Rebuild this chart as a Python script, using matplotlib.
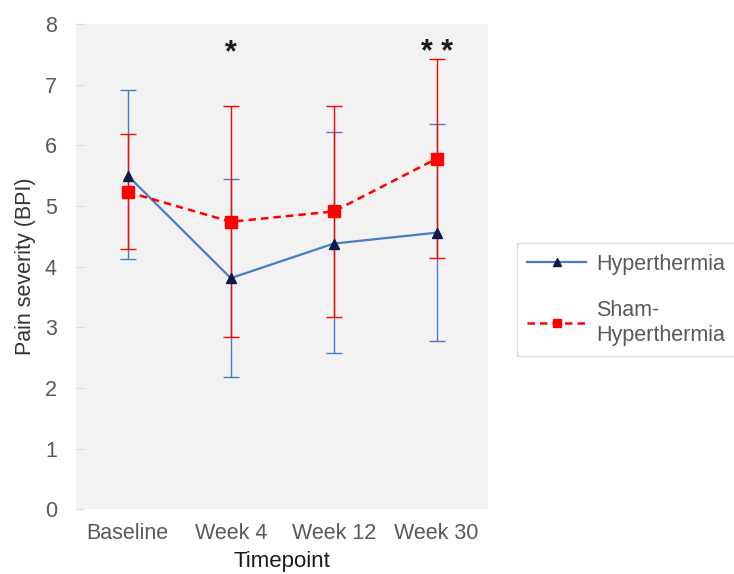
import matplotlib.pyplot as plt
import numpy as np

plt.rcParams['font.family'] = ['Liberation Sans', 'DejaVu Sans']

timepoints = ['Baseline', 'Week 4', 'Week 12', 'Week 30']

hyper_mean = [5.50, 3.81, 4.38, 4.56]
hyper_low = [4.12, 2.18, 2.57, 2.78]
hyper_high = [6.91, 5.45, 6.22, 6.35]

sham_mean = [5.23, 4.74, 4.91, 5.78]
sham_low = [4.29, 2.84, 3.17, 4.14]
sham_high = [6.19, 6.65, 6.65, 7.42]

stars = ['', '*', '', '* *']

x = np.arange(len(timepoints))

fig = plt.figure(figsize=(7.34, 5.74), dpi=100)
ax = fig.add_axes([0.104, 0.113, 0.561, 0.845])
ax.set_facecolor('#f2f2f2')

# error bars first so the markers sit on top
h_err = [np.array(hyper_mean) - np.array(hyper_low), np.array(hyper_high) - np.array(hyper_mean)]
s_err = [np.array(sham_mean) - np.array(sham_low), np.array(sham_high) - np.array(sham_mean)]
ax.errorbar(x, hyper_mean, yerr=h_err, fmt='none', ecolor='#4a7bc4', elinewidth=1.0,
            capsize=6, capthick=1.0, zorder=2)
ax.errorbar(x, sham_mean, yerr=s_err, fmt='none', ecolor='#ff0000', elinewidth=1.0,
            capsize=6, capthick=1.0, zorder=3)

ax.plot(x, hyper_mean, color='#4a7bc4', lw=1.6, marker='^', ms=7,
        mfc='#0a1a4a', mec='#0a1a4a', label='Hyperthermia', zorder=4)
ax.plot(x, sham_mean, color='#ff0000', lw=1.8, ls=(0, (3, 2)), marker='s', ms=8,
        mfc='#ff0000', mec='#ff0000', label='Sham-\nHyperthermia', zorder=5)

for i, s in enumerate(stars):
    if s:
        ax.text(x[i], 7.52, s, ha='center', va='center', fontsize=22,
                fontweight='bold', color='#1a1a1a')

ax.set_xlim(-0.5, 3.5)
ax.set_ylim(0, 8)
ax.set_xticks(x)
ax.set_xticklabels(timepoints)
ax.set_yticks(range(0, 9))
for sp in ax.spines.values():
    sp.set_visible(False)
ax.tick_params(axis='x', length=0, labelsize=15.5, labelcolor='#595959', pad=10)
ax.tick_params(axis='y', direction='in', length=6, color='#d9d9d9', labelsize=15.5,
               labelcolor='#595959', pad=14)

ax.set_xlabel('Timepoint', fontsize=16, color='#1a1a1a', labelpad=5)
ax.set_ylabel('Pain severity (BPI)', fontsize=15.5, color='#333333', labelpad=6)

leg = fig.legend(loc='upper left', bbox_to_anchor=(0.704, 0.577), fontsize=15.5,
                 frameon=True, fancybox=False, edgecolor='#d0d0d0', handlelength=2.7,
                 labelspacing=1.2, borderpad=0.5, handletextpad=0.5, borderaxespad=0,
                 markerscale=0.8)
for t in leg.get_texts():
    t.set_color('#595959')

fig.savefig('out.png', dpi=100)
